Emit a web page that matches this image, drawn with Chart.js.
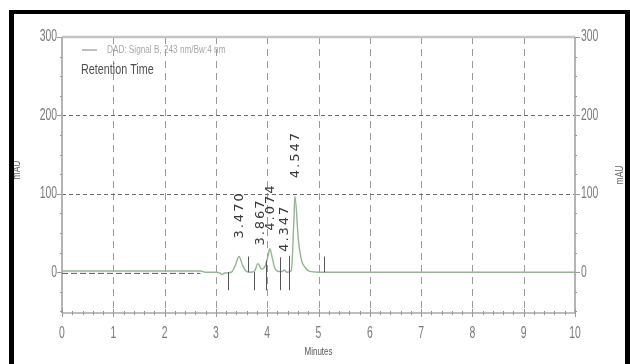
<!DOCTYPE html>
<html>
<head>
<meta charset="utf-8">
<script src="https://cdn.jsdelivr.net/npm/chart.js@4/dist/chart.umd.min.js"></script>
<style>
  html, body { margin: 0; padding: 0; background: #fff; }
  #wrap { width: 630px; height: 364px; position: relative; }
</style>
</head>
<body>
<div id="wrap"><canvas id="c" width="630" height="364"></canvas></div>
<script>
// ---- data ----
const signalTime  = [0, 2.7, 2.8, 3.0, 3.08, 3.12, 3.17, 3.3, 3.38, 3.45, 3.52, 3.58, 3.66, 3.75, 3.82, 3.89, 3.96, 4.02, 4.05, 4.10, 4.15, 4.22, 4.30, 4.33, 4.38, 4.47, 4.52, 4.54, 4.61, 4.67, 4.74, 4.83, 5.0, 5.3, 10];
const signalValue = [1.5, 1.5, 0, 0, -1, -3, -1, 0, 9, 20, 9, 2, 0, 1, 11, 4, 8, 22, 30, 18, 5, 1, 1, 3, 0, 2, 66, 97, 40, 15, 6, 1, 0, 0, 0];
const baselineTime  = [0, 2.7];
const baselineValue = [-1.5, -1.5];
const peakTimes   = [3.470, 3.867, 4.074, 4.347, 4.547];
const peakHeights = [20, 11, 30, 3, 97];
const peakLabels  = ["3.470", "3.867", "4.074", "4.347", "4.547"];
const markerTime   = [3.24, 3.63, 3.75, 3.97, 4.25, 4.43, 5.10];
const markerTop    = [0, 20, 0, 15, 19, 21, 20];
const markerBottom = [-23, 0, -23, -23, -23, -23, 0];
const xTicks = [0, 1, 2, 3, 4, 5, 6, 7, 8, 9, 10];
const xTickLabels = ["0", "1", "2", "3", "4", "5", "6", "7", "8", "9", "10"];
const yTicks = [0, 100, 200, 300];
const yTickLabels = ["0", "100", "200", "300"];
const yMin = -52, yMax = 300;

const SANS = '"Liberation Sans", Arial, sans-serif';

function drawText(ctx, text, x, y, size, sx, sy, align, color) {
  ctx.save();
  ctx.translate(x, y);
  ctx.scale(sx, sy);
  ctx.font = size + 'px ' + SANS;
  ctx.fillStyle = color;
  ctx.textAlign = align;
  ctx.textBaseline = 'middle';
  ctx.fillText(text, 0, 0);
  ctx.restore();
}

const decor = {
  id: 'decor',
  beforeDatasetsDraw(chart) {
    const ctx = chart.ctx, xs = chart.scales.x, ys = chart.scales.y;
    const a = chart.chartArea;
    ctx.save();
    ctx.strokeStyle = '#9a9a9a'; ctx.lineWidth = 1; ctx.setLineDash([7, 5]);
    xTicks.forEach(v => {
      if (v === 0 || v === 10) return;
      const x = Math.round(xs.getPixelForValue(v)) + 0.5;
      ctx.beginPath(); ctx.moveTo(x, a.top); ctx.lineTo(x, a.bottom); ctx.stroke();
    });
    ctx.strokeStyle = '#6a6a6a'; ctx.lineWidth = 1.2; ctx.setLineDash([4, 3]);
    [100, 200].forEach(v => {
      const y = Math.round(ys.getPixelForValue(v)) + 0.5;
      ctx.beginPath(); ctx.moveTo(a.left, y); ctx.lineTo(a.right, y); ctx.stroke();
    });
    ctx.setLineDash([]);
    ctx.strokeStyle = '#c4c4c4'; ctx.lineWidth = 2.5;
    const yt = ys.getPixelForValue(300);
    ctx.beginPath(); ctx.moveTo(a.left, yt); ctx.lineTo(a.right, yt); ctx.stroke();
    ctx.strokeStyle = '#b4b4b4'; ctx.lineWidth = 2;
    ctx.beginPath(); ctx.moveTo(a.left, a.top); ctx.lineTo(a.left, a.bottom); ctx.stroke();
    ctx.beginPath(); ctx.moveTo(a.right, a.top); ctx.lineTo(a.right, a.bottom); ctx.stroke();
    ctx.strokeStyle = '#a8a8a8'; ctx.lineWidth = 1.5;
    ctx.beginPath(); ctx.moveTo(a.left, a.bottom); ctx.lineTo(a.right, a.bottom); ctx.stroke();
    ctx.lineWidth = 1; ctx.strokeStyle = '#9a9a9a';
    for (let i = 0; i <= 50; i++) {
      const x = Math.round(xs.getPixelForValue(i / 5)) + 0.5;
      const major = i % 5 === 0;
      ctx.beginPath(); ctx.moveTo(x, a.bottom - (major ? 4 : 2)); ctx.lineTo(x, a.bottom + (major ? 4 : 2)); ctx.stroke();
    }
    for (let v = -50; v <= 300; v += 25) {
      const y = Math.round(ys.getPixelForValue(v)) + 0.5;
      const major = v % 100 === 0;
      const len = major ? 5 : 2;
      ctx.beginPath(); ctx.moveTo(a.left - len, y); ctx.lineTo(a.left, y); ctx.stroke();
      ctx.beginPath(); ctx.moveTo(a.right, y); ctx.lineTo(a.right + len, y); ctx.stroke();
    }
    xTicks.forEach((v, i) => drawText(ctx, xTickLabels[i], xs.getPixelForValue(v), 334, 13, 0.8, 1.2, 'center', '#7a7a7a'));
    yTicks.forEach((v, i) => {
      const y = ys.getPixelForValue(v);
      drawText(ctx, yTickLabels[i], a.left - 5, y, 13, 0.8, 1.2, 'right', '#7a7a7a');
      drawText(ctx, yTickLabels[i], a.right + 6, y, 13, 0.8, 1.2, 'left', '#7a7a7a');
    });
    ctx.restore();
  },
  afterDatasetsDraw(chart) {
    const ctx = chart.ctx, xs = chart.scales.x, ys = chart.scales.y;
    ctx.save();
    ctx.strokeStyle = '#555'; ctx.lineWidth = 1;
    markerTime.forEach((t, i) => {
      const x = Math.round(xs.getPixelForValue(t)) + 0.5;
      ctx.beginPath();
      ctx.moveTo(x, ys.getPixelForValue(markerTop[i]));
      ctx.lineTo(x, ys.getPixelForValue(markerBottom[i]));
      ctx.stroke();
    });
    ctx.fillStyle = '#3a3a3a';
    ctx.font = '13px "DejaVu Sans", sans-serif';
    try { ctx.letterSpacing = '2px'; } catch (e) {}
    ctx.textAlign = 'left'; ctx.textBaseline = 'middle';
    peakTimes.forEach((t, i) => {
      const x = xs.getPixelForValue(t);
      const y = ys.getPixelForValue(peakHeights[i]) - 18;
      ctx.save(); ctx.translate(x, y); ctx.rotate(-Math.PI / 2);
      ctx.fillText(peakLabels[i], 0, 0);
      ctx.restore();
    });
    try { ctx.letterSpacing = '0px'; } catch (e) {}
    ctx.strokeStyle = '#aaaaaa'; ctx.lineWidth = 1.5;
    ctx.beginPath(); ctx.moveTo(82, 50); ctx.lineTo(97, 50); ctx.stroke();
    drawText(ctx, 'DAD: Signal B, 243 nm/Bw:4 nm', 107, 50, 10, 0.82, 1.1, 'left', '#a8a8a8');
    drawText(ctx, 'Retention Time', 81, 70, 14, 0.77, 1.1, 'left', '#505050');
    [[17, 170], [620, 175]].forEach(p => {
      ctx.save(); ctx.translate(p[0], p[1]); ctx.rotate(-Math.PI / 2);
      drawText(ctx, 'mAU', 0, 0, 10, 0.85, 1.0, 'center', '#666');
      ctx.restore();
    });
    drawText(ctx, 'Minutes', (chart.chartArea.left + chart.chartArea.right) / 2, 352, 10, 0.8, 1.1, 'center', '#555');
    ctx.fillStyle = '#000';
    ctx.fillRect(9, 10, 5, 354);
    ctx.fillRect(9, 10, 621, 4);
    ctx.fillRect(625, 10, 5, 354);
    ctx.restore();
  }
};

new Chart(document.getElementById('c'), {
  type: 'line',
  data: {
    datasets: [
      {
        data: baselineTime.map((t, i) => ({ x: t, y: baselineValue[i] })),
        borderColor: '#5a5a5a', borderWidth: 1, borderDash: [6, 3], pointRadius: 0
      },
      {
        data: signalTime.map((t, i) => ({ x: t, y: signalValue[i] })),
        borderColor: '#94b494', borderWidth: 1.4, pointRadius: 0,
        cubicInterpolationMode: 'monotone'
      }
    ]
  },
  options: {
    responsive: false, animation: false, devicePixelRatio: 1,
    layout: { padding: { left: 0, right: 0, top: 37, bottom: 0 } },
    plugins: { legend: { display: false }, tooltip: { enabled: false } },
    scales: {
      x: {
        type: 'linear', position: 'bottom', min: 0, max: 10,
        afterBuildTicks: s => { s.ticks = xTicks.map(v => ({ value: v })); },
        afterFit: s => { s.height = 51; },
        grid: { display: false }, border: { display: false }, ticks: { display: false }
      },
      y: {
        type: 'linear', position: 'left', min: yMin, max: yMax,
        afterBuildTicks: s => { s.ticks = yTicks.map(v => ({ value: v })); },
        afterFit: s => { s.width = 62; },
        grid: { display: false }, border: { display: false }, ticks: { display: false }
      },
      y2: {
        type: 'linear', position: 'right', min: yMin, max: yMax,
        afterBuildTicks: s => { s.ticks = yTicks.map(v => ({ value: v })); },
        afterFit: s => { s.width = 55; },
        grid: { display: false }, border: { display: false }, ticks: { display: false }
      }
    }
  },
  plugins: [decor]
});
</script>
</body>
</html>
